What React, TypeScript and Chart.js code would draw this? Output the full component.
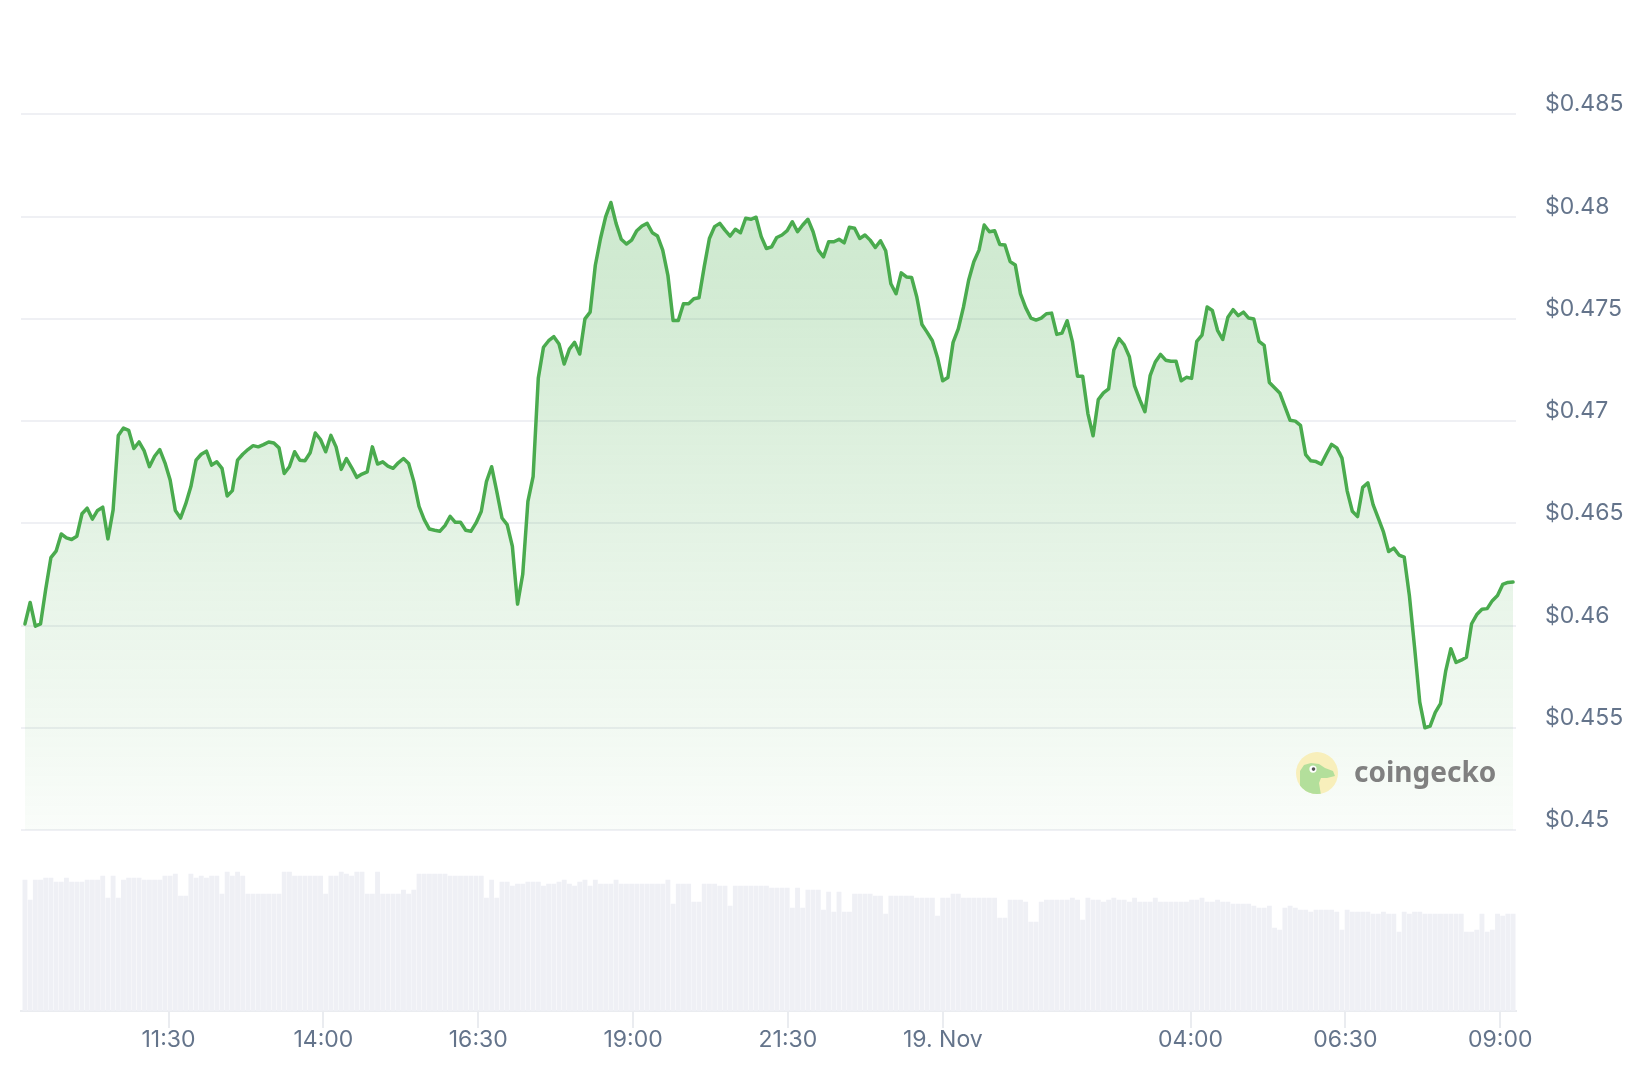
import { useEffect, useRef } from 'react';
import { Chart, registerables } from 'chart.js';

Chart.register(...registerables);

// Time axis: hours relative to 19 Nov 00:00; one sample roughly every 5 minutes from 18 Nov ~09:11
const startHour = -14.818;
const stepHours = 0.08371;

const prices = [
  0.46008, 0.46113, 0.45997, 0.46008, 0.46178, 0.46332, 0.46364, 0.46448, 0.46429, 0.46421,
  0.46437, 0.46547, 0.46574, 0.46521, 0.46563, 0.46579, 0.46424, 0.46566, 0.4693, 0.46966,
  0.46955, 0.46866, 0.46898, 0.46854, 0.46777, 0.46828, 0.46861, 0.46796, 0.46712, 0.46563,
  0.46526, 0.46595, 0.4668, 0.46809, 0.46838, 0.46853, 0.46785, 0.46801, 0.46769, 0.46634,
  0.4666, 0.46809, 0.46838, 0.46861, 0.4688, 0.46874, 0.46885, 0.46898, 0.46893, 0.46869,
  0.46744, 0.46777, 0.4685, 0.46809, 0.46806, 0.46845, 0.46942, 0.4691, 0.4685, 0.4693,
  0.46874, 0.46764, 0.46817, 0.46773, 0.46725, 0.46741, 0.46752, 0.46874, 0.4679, 0.46801,
  0.4678, 0.46769, 0.46796, 0.46817, 0.46793, 0.46704, 0.46583, 0.46518, 0.46472, 0.46466,
  0.46461, 0.46489, 0.46534, 0.46505, 0.46505, 0.46466, 0.46461, 0.46502, 0.46558, 0.46704,
  0.46777, 0.46655, 0.46526, 0.46494, 0.46388, 0.46105, 0.46251, 0.46607, 0.46728, 0.4721,
  0.47361, 0.47393, 0.47413, 0.47377, 0.47279, 0.47352, 0.47385, 0.47328, 0.475, 0.47533,
  0.47762, 0.47893, 0.48, 0.48069, 0.47967, 0.47889, 0.47866, 0.47885, 0.47931, 0.47954,
  0.47967, 0.47921, 0.47905, 0.47836, 0.47713, 0.47492, 0.47492, 0.47574, 0.47574, 0.47598,
  0.47603, 0.47754, 0.47893, 0.47951, 0.47967, 0.47934, 0.47905, 0.47938, 0.47921, 0.47992,
  0.47987, 0.47997, 0.47902, 0.47844, 0.47852, 0.47898, 0.4791, 0.47931, 0.47975, 0.47926,
  0.47959, 0.47987, 0.47926, 0.47836, 0.47803, 0.47877, 0.47877, 0.47889, 0.47872, 0.47948,
  0.47943, 0.47893, 0.4791, 0.47885, 0.47849, 0.47882, 0.47833, 0.47672, 0.47623, 0.47725,
  0.47705, 0.47702, 0.47607, 0.47472, 0.47434, 0.47393, 0.4731, 0.47197, 0.47213, 0.47385,
  0.47451, 0.47557, 0.47689, 0.47779, 0.47836, 0.47959, 0.47926, 0.47931, 0.47864, 0.47861,
  0.4778, 0.47763, 0.47622, 0.47555, 0.47504, 0.47494, 0.47504, 0.47525, 0.47528, 0.47424,
  0.4743, 0.47491, 0.4739, 0.47219, 0.47219, 0.47037, 0.46928, 0.47105, 0.47138, 0.47158,
  0.47348, 0.47404, 0.47373, 0.47315, 0.47172, 0.47105, 0.47046, 0.47222, 0.47289, 0.47326,
  0.47298, 0.47293, 0.47293, 0.47197, 0.47214, 0.47209, 0.4739, 0.4742, 0.47558, 0.47541,
  0.47444, 0.47399, 0.47508, 0.47545, 0.47516, 0.47533, 0.47504, 0.47499, 0.4739, 0.4737,
  0.47189, 0.47163, 0.47138, 0.47071, 0.47004, 0.47, 0.46979, 0.46836, 0.46806, 0.46802,
  0.46789, 0.46839, 0.46886, 0.46869, 0.46819, 0.46659, 0.46559, 0.46533, 0.46676, 0.46698,
  0.46592, 0.46525, 0.46458, 0.46362, 0.46379, 0.46345, 0.46335, 0.46147, 0.45895, 0.45626,
  0.455, 0.45509, 0.45576, 0.45618, 0.45777, 0.45887, 0.4582, 0.45831, 0.45845, 0.46009,
  0.46054, 0.4608, 0.46083, 0.46122, 0.46147, 0.46201, 0.46211, 0.46213,
];

// 5-minute volume (relative units, millions)
const volumes = [
  13.1, 11.1, 13.1, 13.1, 13.3, 13.3, 12.9, 12.9, 13.3, 12.9,
  12.9, 12.9, 13.1, 13.1, 13.1, 13.5, 11.3, 13.5, 11.3, 13.1,
  13.3, 13.3, 13.3, 13.1, 13.1, 13.1, 13.1, 13.5, 13.5, 13.7,
  11.5, 11.5, 13.7, 13.3, 13.5, 13.3, 13.5, 13.5, 11.7, 13.9,
  13.5, 13.9, 13.5, 11.7, 11.7, 11.7, 11.7, 11.7, 11.7, 11.7,
  13.9, 13.9, 13.5, 13.5, 13.5, 13.5, 13.5, 13.5, 11.7, 13.5,
  13.5, 13.9, 13.7, 13.5, 13.9, 13.9, 11.7, 11.7, 13.9, 11.7,
  11.7, 11.7, 11.7, 12.1, 11.7, 12.1, 13.7, 13.7, 13.7, 13.7,
  13.7, 13.7, 13.5, 13.5, 13.5, 13.5, 13.5, 13.5, 13.5, 11.3,
  13.1, 11.3, 12.9, 12.9, 12.5, 12.7, 12.7, 12.9, 12.9, 12.9,
  12.5, 12.7, 12.7, 12.9, 13.1, 12.7, 12.5, 12.9, 13.1, 12.5,
  13.1, 12.7, 12.7, 12.7, 13.1, 12.7, 12.7, 12.7, 12.7, 12.7,
  12.7, 12.7, 12.7, 12.7, 13.1, 10.7, 12.7, 12.7, 12.7, 10.9,
  10.9, 12.7, 12.7, 12.7, 12.5, 12.5, 10.5, 12.5, 12.5, 12.5,
  12.5, 12.5, 12.5, 12.5, 12.3, 12.3, 12.3, 12.3, 10.3, 12.3,
  10.3, 12.1, 12.1, 12.1, 10.1, 11.9, 9.9, 11.9, 9.9, 9.9,
  11.7, 11.7, 11.7, 11.7, 11.5, 11.5, 9.7, 11.5, 11.5, 11.5,
  11.5, 11.5, 11.3, 11.3, 11.3, 11.3, 9.5, 11.3, 11.3, 11.7,
  11.7, 11.3, 11.3, 11.3, 11.3, 11.3, 11.3, 11.3, 9.3, 9.3,
  11.1, 11.1, 11.1, 10.9, 8.9, 8.9, 10.9, 11.1, 11.1, 11.1,
  11.1, 11.1, 11.3, 11.1, 9.1, 11.3, 11.1, 11.1, 10.9, 11.1,
  11.3, 11.1, 11.1, 10.9, 11.3, 10.9, 10.9, 10.9, 11.3, 10.9,
  10.9, 10.9, 10.9, 10.9, 10.9, 11.1, 11.1, 11.3, 10.9, 10.9,
  11.1, 10.9, 10.9, 10.7, 10.7, 10.7, 10.7, 10.5, 10.3, 10.3,
  10.5, 8.3, 8.1, 10.3, 10.5, 10.3, 10.1, 10.1, 9.9, 10.1,
  10.1, 10.1, 10.1, 9.9, 8.1, 10.1, 9.9, 9.9, 9.9, 9.9,
  9.7, 9.7, 9.9, 9.7, 9.7, 7.9, 9.9, 9.7, 9.9, 9.9,
  9.7, 9.7, 9.7, 9.7, 9.7, 9.7, 9.7, 9.7, 7.9, 7.9,
  8.1, 9.7, 7.9, 8.1, 9.7, 9.5, 9.7, 9.7,
];

const xTickHours = [-12.5, -10, -7.5, -5, -2.5, 0, 4, 6.5, 9];
const xTickLabels = ['11:30', '14:00', '16:30', '19:00', '21:30', '19. Nov', '04:00', '06:30', '09:00'];
const yTickValues = [0.45, 0.455, 0.46, 0.465, 0.47, 0.475, 0.48, 0.485];
const yTickLabels = ['$0.45', '$0.455', '$0.46', '$0.465', '$0.47', '$0.475', '$0.48', '$0.485'];

const fillBase = 0.45;
const priceMin = 0.4411535;
const priceMax = 0.4886119;
const volumeMax = 97.1;
const xMin = -14.882;
const xMax = 9.254;

const W = 1648;
const H = 1074;
const labelColor = '#64748b';
const gridColor = '#eff0f4';
const lineColor = '#4aab4e';
const font = { family: 'Inter', size: 23, lineHeight: 1 };

const watermark = {
  id: 'watermark',
  afterDatasetsDraw(chart: any) {
    const { ctx, chartArea } = chart;
    const cx = chartArea.right - 199;
    const cy = chart.scales.y.getPixelForValue(fillBase) - 57;
    const r = 21;
    ctx.save();
    ctx.beginPath();
    ctx.arc(cx, cy, r, 0, Math.PI * 2);
    ctx.fillStyle = '#f8efbb';
    ctx.fill();
    ctx.clip();
    ctx.beginPath();
    const pts = [[-17, 22], [-17, -2], [-13, -8], [-6, -10], [2, -9], [8, -5], [16, -2], [18, 3], [10, 5], [4, 5], [2, 10], [4, 22]];
    pts.forEach((p, i) => (i ? ctx.lineTo(cx + p[0], cy + p[1]) : ctx.moveTo(cx + p[0], cy + p[1])));
    ctx.closePath();
    ctx.fillStyle = '#b3df9b';
    ctx.fill();
    ctx.beginPath();
    ctx.arc(cx - 4, cy - 4, 3.6, 0, Math.PI * 2);
    ctx.fillStyle = '#ffffff';
    ctx.fill();
    ctx.beginPath();
    ctx.arc(cx - 3.5, cy - 4, 1.8, 0, Math.PI * 2);
    ctx.fillStyle = '#555555';
    ctx.fill();
    ctx.restore();
    ctx.save();
    ctx.fillStyle = '#808080';
    ctx.font = 'bold 28px "Noto Sans"';
    ctx.textBaseline = 'alphabetic';
    ctx.textAlign = 'left';
    ctx.fillText('coingecko', cx + 37, cy + 9);
    ctx.restore();
  },
};

export default function App() {
  const ref = useRef<HTMLCanvasElement | null>(null);

  useEffect(() => {
    if (!ref.current) return;
    const priceData = prices.map((p, i) => ({ x: startHour + i * stepHours, y: p }));
    const volumeData = volumes.map((v, i) => ({ x: startHour + i * stepHours, y: v }));

    const chart = new Chart(ref.current, {
      type: 'line',
      data: {
        datasets: [
          {
            type: 'line',
            data: priceData,
            yAxisID: 'y',
            borderColor: lineColor,
            borderWidth: 3.5,
            pointRadius: 0,
            tension: 0,
            borderJoinStyle: 'round',
            borderCapStyle: 'round',
            fill: { value: fillBase },
            backgroundColor: (c: any) => {
              const ch = c.chart;
              const area = ch.chartArea;
              if (!area) return 'rgba(76,175,80,0.15)';
              const yb = ch.scales.y.getPixelForValue(fillBase);
              const g = ch.ctx.createLinearGradient(0, area.top, 0, yb);
              g.addColorStop(0, 'rgba(76,175,80,0.35)');
              g.addColorStop(1, 'rgba(76,175,80,0.03)');
              return g;
            },
            order: 0,
          } as any,
          {
            type: 'bar',
            data: volumeData,
            yAxisID: 'yv',
            backgroundColor: '#eff0f5',
            borderWidth: 0,
            barThickness: 4.2,
            order: 1,
          } as any,
        ],
      },
      options: {
        responsive: false,
        devicePixelRatio: 1,
        animation: false,
        layout: { padding: { left: 21, top: 40, right: 0, bottom: 0 } },
        plugins: { legend: { display: false }, tooltip: { enabled: false } },
        scales: {
          x: {
            type: 'linear',
            min: xMin,
            max: xMax,
            offset: false,
            afterBuildTicks: (axis: any) => {
              axis.ticks = xTickHours.map((v) => ({ value: v }));
            },
            afterFit: (axis: any) => {
              axis.height = 63;
            },
            grid: {
              display: true,
              drawOnChartArea: false,
              drawTicks: true,
              tickLength: 17,
              color: '#eaecf0',
              lineWidth: 2,
              offset: false,
            },
            border: { display: true, color: '#eaecf0', width: 2 },
            ticks: {
              autoSkip: false,
              maxRotation: 0,
              padding: 1,
              color: labelColor,
              font,
              callback: (_v: any, i: number) => xTickLabels[i],
            },
          },
          y: {
            type: 'linear',
            position: 'right',
            min: priceMin,
            max: priceMax,
            afterBuildTicks: (axis: any) => {
              axis.ticks = yTickValues.map((v) => ({ value: v }));
            },
            afterFit: (axis: any) => {
              axis.width = W - 1516;
            },
            grid: { color: gridColor, lineWidth: 2, drawTicks: false },
            border: { display: false },
            ticks: {
              padding: 29,
              labelOffset: -10,
              color: labelColor,
              font,
              callback: (_v: any, i: number) => yTickLabels[i],
            },
          },
          yv: {
            type: 'linear',
            display: false,
            min: 0,
            max: volumeMax,
          },
        } as any,
      },
      plugins: [watermark],
    } as any);

    return () => chart.destroy();
  }, []);

  return (
    <div style={{ position: 'absolute', left: 0, top: 0, width: W, height: H, background: '#ffffff' }}>
      <canvas ref={ref} width={W} height={H} style={{ width: W, height: H, display: 'block' }} />
    </div>
  );
}
